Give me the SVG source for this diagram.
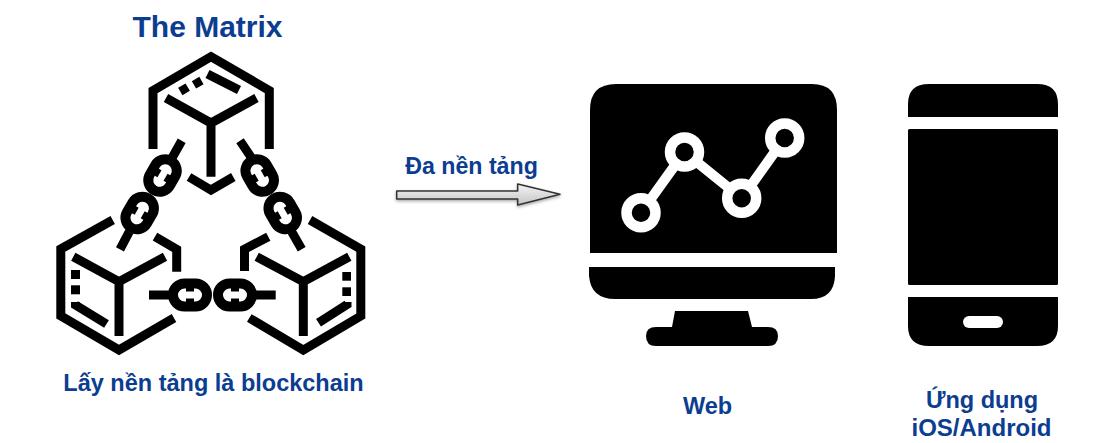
<svg xmlns="http://www.w3.org/2000/svg" width="1098" height="443" viewBox="0 0 1098 443">
<style>
text{font-family:"Liberation Sans",Arial,sans-serif;font-weight:bold;fill:#0b3d91;text-anchor:middle}
.l{fill:none;stroke:#000;stroke-width:9;stroke-linejoin:miter}
</style>
<defs>
<linearGradient id="ag" x1="0" y1="0" x2="0" y2="1"><stop offset="0" stop-color="#f4f4f4"/><stop offset="1" stop-color="#c4c4c4"/></linearGradient>
<filter id="sh" x="-10%" y="-30%" width="120%" height="180%"><feDropShadow dx="0" dy="1.500" stdDeviation="1.500" flood-color="#000" flood-opacity=".35"/></filter>
<g id="link">
<rect x="-17" y="-11.500" width="34" height="23" rx="11.500" fill="#fff" stroke="#000" stroke-width="10"/>
<rect x="-4" y="-8" width="8" height="4.500"/>
<rect x="-4" y="3.500" width="8" height="4.500"/>
</g>
</defs>
<rect width="1098" height="443" fill="#fff"/>
<g id="title"><text x="207.500" y="36.500" font-size="30">The Matrix</text></g>
<g id="blockchain">
<g id="cube-top">
<path class="l" d="M153 149V90.500L211 56.600L269.300 90.500V149"/>
<path class="l" d="M166 98L211 123L256.500 98M211 123V176.700"/>
<path class="l" d="M189 177L211 190L233.300 177"/>
<path class="l" d="M207.500 74L239 90"/>
<rect x="179.700" y="85" width="8.600" height="8.600" transform="rotate(-30 184 89.300)"/>
<rect x="193.400" y="78.400" width="8.600" height="8.600" transform="rotate(-30 197.700 82.700)"/>
</g>
<g id="cube-left">
<path class="l" d="M112.700 220L60.800 249V316L119 350L174 318"/>
<path class="l" d="M155 236.700L176.700 249.300V271.700"/>
<path class="l" d="M73.300 256.700L119 281.700L165 256.700M119 281.700V336"/>
<path class="l" d="M75.500 302V305L106.500 324"/>
<rect x="71" y="270" width="9" height="9"/><rect x="71" y="285.300" width="9" height="9"/>
</g>
<g id="cube-right">
<path class="l" d="M310 220L360.800 249V316L303.300 350L249.300 318"/>
<path class="l" d="M268.300 236.700L244.500 249.300V271"/>
<path class="l" d="M256.700 256.700L303.300 281.700L349.300 256.700M303.300 281.700V336"/>
<path class="l" d="M347 302V304.500L318.500 322.700"/>
<rect x="342.300" y="272" width="8.700" height="8.700"/><rect x="342.300" y="287.300" width="8.700" height="8.700"/>
</g>
</g>
<g id="chains">
<path class="l" d="M181.700 140.700L172 158M129.300 231.700L120 249.300M240 140.700L253 160M291.700 231.700L301.700 249.300M149 295H172M254 295H275.700"/>
<use href="#link" transform="translate(162.500 175.500) rotate(120)"/>
<use href="#link" transform="translate(139.700 213) rotate(120)"/>
<use href="#link" transform="translate(259.700 175.500) rotate(60)"/>
<use href="#link" transform="translate(282.700 213) rotate(60)"/>
<use href="#link" transform="translate(190 295)"/>
<use href="#link" transform="translate(235 295)"/>
</g>
<g id="label-blockchain"><text x="213.500" y="391" font-size="23.500">Lấy nền tảng là blockchain</text></g>
<g id="connectors">
<path d="M396.700 191H517.700V184L560 194.300L517.700 205V199H396.700Z" fill="url(#ag)" stroke="#333" stroke-width="1.500" stroke-linejoin="round" filter="url(#sh)"/>
</g>
<g id="label-platform"><text x="471.500" y="174" font-size="23.200">Đa nền tảng</text></g>
<g id="monitor">
<path d="M590 253V110Q590 84 616 84H812Q837 84 837 110V253Z"/>
<path d="M589 267H835V276Q834 299 811 299H615Q591 299 589 276Z"/>
<path d="M675 311H748L752 327H768Q778 327 778 336Q778 346 768 346H656Q646 346 646 336Q646 327 656 327H672Z"/>
<path d="M641 212.700L684.500 152L741.700 198.300L784.700 138" fill="none" stroke="#fff" stroke-width="10"/>
<g fill="#000" stroke="#fff" stroke-width="10.500">
<circle cx="641" cy="212.700" r="14.500"/><circle cx="684.500" cy="152" r="14.500"/><circle cx="741.700" cy="198.300" r="14.500"/><circle cx="784.700" cy="138" r="14.500"/>
</g>
</g>
<g id="phone">
<path d="M908 117V104Q908 84 929 84H1037Q1058 84 1058 104V117Z"/>
<rect x="908" y="129" width="150" height="156" rx="1.500"/>
<path d="M908 297H1058V326Q1058 346 1037 346H929Q908 346 908 326Z"/>
<rect x="963" y="316" width="40" height="12" rx="6" fill="#fff"/>
</g>
<g id="label-web"><text x="707.500" y="414" font-size="23.500">Web</text></g>
<g id="label-app"><text x="982" y="407.500" font-size="23.500">Ứng dụng</text><text x="981.500" y="435.500" font-size="24">iOS/Android</text></g>
</svg>
